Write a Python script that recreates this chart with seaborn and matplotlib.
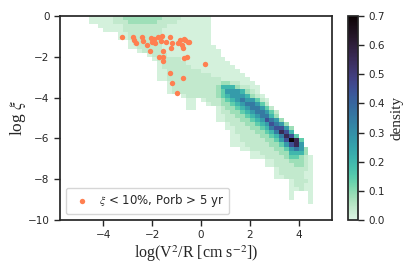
import numpy as np
import seaborn as sns
import matplotlib
matplotlib.use("Agg")
import matplotlib.pyplot as plt

sns.set_theme(style="ticks")
plt.rcParams["mathtext.fontset"] = "stix"

# 2d histogram, one entry per row of bins.
# rows start at log xi = 0 and go down, bins are 0.2 x 0.2,
# column 0 starts at log(V^2/R) = -4.6; each entry = (first column, cells)
x_start = -4.6
y_start = 0.0
bin_w = 0.2
level_vals = {"1": 0.015, "2": 0.04, "3": 0.08, "4": 0.14, "5": 0.2,
              "6": 0.27, "7": 0.35, "8": 0.45, "9": 0.56, "X": 0.7}
rows = [
    (0, "1111122333333332222111111"),
    (0, "1111122233333322221111111"),
    (2, "11111222222222111111111"),
    (3, "1111222222221111111111"),
    (6, "1122222221111111111"),
    (6, "1122222211111111111"),
    (8, "12222221111111111"),
    (8, "112222211111111111"),
    (10, "12222111111111111"),
    (12, "122211111111111"),
    (13, "122222111111111"),
    (14, "122222111111111"),
    (14, "1222222111111111"),
    (14, "11222222211111111"),
    (14, "112222222221111111"),
    (14, "1122222222222111111"),
    (16, "122222222223322111"),
    (16, "1222222222355532211"),
    (16, "1222222222346665321"),
    (19, "12222223456665321"),
    (20, "11.12223456766421"),
    (20, "11..1223345677642"),
    (20, "11....123345677642"),
    (26, "1223345677642"),
    (26, "1122334567753"),
    (26, "11222334568763"),
    (28, "1222334568763"),
    (28, "11222334578863"),
    (29, "1222233457985"),
    (29, "11222233457984"),
    (29, "112222233468X94"),
    (29, "111222223346896"),
    (31, "11222223346763"),
    (33, "112222335553"),
    (33, "1112222344321"),
    (36, "1122233321"),
    (36, "1122223321"),
    (38, "12222221"),
    (38, "12222211"),
    (38, "11222211"),
    (41, "12221"),
    (41, "12211"),
    (41, "11211"),
    (41, "1...1"),
    (41, "1...1"),
    (45, "1"),
]

# systems with xi < 10% and Porb > 5 yr
pts_x = [-3.25, -2.80, -2.74, -2.66, -2.43, -2.39, -2.22, -2.06, -2.01, -1.91,
         -1.88, -1.75, -1.65, -1.58, -1.45, -1.27, -1.20, -1.24, -0.93, -0.86,
         -0.79, -0.72, -0.70, -0.66, -0.52, -0.49, -2.09, -1.57, -1.71, -1.57,
         -1.54, -0.68, -0.59, 0.16, -1.27, -0.72, -1.18, -0.99]
pts_y = [-1.04, -1.01, -1.18, -1.34, -1.04, -1.23, -1.42, -1.06, -1.26, -1.13,
         -1.34, -1.04, -1.23, -0.98, -1.29, -1.04, -1.31, -1.58, -1.34, -1.18,
         -1.42, -1.58, -1.13, -1.18, -1.26, -1.29, -1.70, -1.70, -2.02, -2.02,
         -2.19, -2.07, -2.02, -2.37, -2.78, -3.05, -3.27, -3.79]

# turn the rows into bin centres + weights for histplot
hx, hy, hw = [], [], []
for r, (c0, cells) in enumerate(rows):
    for i, ch in enumerate(cells):
        if ch == ".":
            continue
        hx.append(x_start + (c0 + i + 0.5) * bin_w)
        hy.append(y_start - (r + 0.5) * bin_w)
        hw.append(level_vals[ch])

fig = plt.figure(figsize=(4.15, 2.77), dpi=100)
ax = fig.add_axes([0.1446, 0.2058, 0.6547, 0.7364])
cax = fig.add_axes([0.8386, 0.2058, 0.0241, 0.7364])

sns.histplot(x=hx, y=hy, weights=hw, binwidth=bin_w,
             binrange=((-4.6, 4.6), (-9.2, 0.0)), cmap="mako_r",
             vmin=0, vmax=0.7, cbar=True, cbar_ax=cax, ax=ax)

sns.scatterplot(x=pts_x, y=pts_y, color="coral", s=15, linewidth=0,
                label=r"$\xi$ < 10%, Porb > 5 yr", ax=ax, zorder=3)

ax.set_xlim(-5.77, 5.35)
ax.set_ylim(-10, 0)
ax.set_xticks([-4, -2, 0, 2, 4])
ax.set_yticks([0, -2, -4, -6, -8, -10])
ax.tick_params(labelsize=7.5, length=4, width=1)
ax.set_xlabel(r"log(V$^2$/R [cm s$^{-2}$])", family="Liberation Serif",
              fontsize=11.5, labelpad=2)
ax.set_ylabel(r"log $\xi$", family="Liberation Serif", fontsize=12.5, labelpad=0)
ax.legend(loc="lower left", fontsize=8.5, handletextpad=0.4)

cax.set_yticks(np.arange(0, 0.71, 0.1))
cax.set_yticklabels([f"{v:.1f}" for v in np.arange(0, 0.71, 0.1)])
cax.tick_params(labelsize=7.5, length=4, width=1)
cax.set_ylabel("density", family="Liberation Serif", fontsize=11)

fig.savefig("out.png", dpi=100)
